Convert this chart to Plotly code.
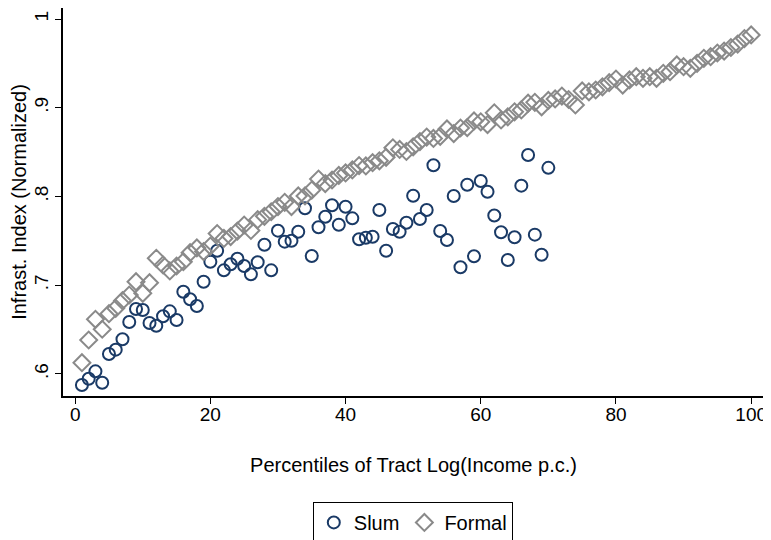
import plotly.graph_objects as go

slum_x = list(range(1, 71))
slum_y = [0.5876, 0.5947, 0.6030, 0.5902, 0.6225, 0.6274, 0.6391, 0.6586, 0.6732, 0.6721,
          0.6575, 0.6544, 0.6650, 0.6706, 0.6608, 0.6927, 0.6842, 0.6766, 0.7040, 0.7265,
          0.7389, 0.7168, 0.7236, 0.7299, 0.7217, 0.7123, 0.7259, 0.7457, 0.7168, 0.7615,
          0.7491, 0.7502, 0.7603, 0.7867, 0.7330, 0.7654, 0.7771, 0.7901, 0.7682, 0.7885,
          0.7754, 0.7518, 0.7536, 0.7547, 0.7848, 0.7389, 0.7634, 0.7603, 0.7705, 0.8009,
          0.7746, 0.7848, 0.8352, 0.7611, 0.7510, 0.8006, 0.7203, 0.8132, 0.7326, 0.8175,
          0.8054, 0.7786, 0.7597, 0.7285, 0.7540, 0.8122, 0.8468, 0.7570, 0.7344, 0.8323]

formal_x = list(range(1, 101))
formal_y = [0.6127, 0.6383, 0.6616, 0.6504, 0.6679, 0.6740, 0.6826, 0.6890, 0.7040, 0.6909,
            0.7029, 0.7304, 0.7228, 0.7161, 0.7217, 0.7265, 0.7367, 0.7420, 0.7380, 0.7442,
            0.7583, 0.7527, 0.7549, 0.7611, 0.7679, 0.7617, 0.7739, 0.7777, 0.7828, 0.7887,
            0.7935, 0.7887, 0.8006, 0.8006, 0.8073, 0.8197, 0.8145, 0.8186, 0.8237, 0.8265,
            0.8299, 0.8349, 0.8344, 0.8381, 0.8402, 0.8442, 0.8549, 0.8530, 0.8507, 0.8560,
            0.8619, 0.8670, 0.8654, 0.8678, 0.8761, 0.8709, 0.8772, 0.8776, 0.8851, 0.8842,
            0.8811, 0.8943, 0.8862, 0.8898, 0.8954, 0.8975, 0.9051, 0.9061, 0.9011, 0.9082,
            0.9099, 0.9132, 0.9093, 0.9031, 0.9189, 0.9180, 0.9200, 0.9236, 0.9283, 0.9324,
            0.9256, 0.9313, 0.9350, 0.9332, 0.9350, 0.9332, 0.9388, 0.9406, 0.9482, 0.9463,
            0.9444, 0.9501, 0.9557, 0.9575, 0.9617, 0.9639, 0.9679, 0.9718, 0.9780, 0.9820]

x_ticks = [0, 20, 40, 60, 80, 100]
y_ticks = [0.6, 0.7, 0.8, 0.9, 1.0]
y_tick_labels = [".6", ".7", ".8", ".9", "1"]

FONT = "Liberation Sans, Arial, Helvetica, sans-serif"
NAVY = "#1a3a66"
GRAY = "#8a8a8a"

fig = go.Figure()
fig.add_trace(go.Scatter(
    x=slum_x, y=slum_y, mode="markers", name="Slum",
    marker=dict(symbol="circle-open", size=12, color=NAVY, line=dict(width=2, color=NAVY)),
))
fig.add_trace(go.Scatter(
    x=formal_x, y=formal_y, mode="markers", name="Formal",
    marker=dict(symbol="diamond-open", size=13, color=GRAY, line=dict(width=2, color=GRAY)),
))

fig.update_layout(
    width=763, height=532,
    margin=dict(l=55, r=7, t=0, b=144, autoexpand=False),
    paper_bgcolor="white", plot_bgcolor="white",
    font=dict(family=FONT, size=19, color="black"),
    showlegend=True,
    legend=dict(
        orientation="h", x=0.499, xanchor="center", y=-0.273, yanchor="top",
        bordercolor="black", borderwidth=1, font=dict(size=20, family=FONT),
        itemsizing="trace", itemwidth=30, tracegroupgap=0,
    ),
    xaxis=dict(
        range=[-1.8, 101.9], tickvals=x_ticks, ticks="outside", ticklen=6,
        tickwidth=1, tickcolor="black", showgrid=False, zeroline=False,
        showline=True, linecolor="black", linewidth=1.5, mirror=True,
        automargin=False, ticklabelstandoff=-6,
        title=dict(text="Percentiles of Tract Log(Income p.c.)", standoff=34,
                   font=dict(size=20, family=FONT)),
        tickfont=dict(size=19, family=FONT),
    ),
    yaxis=dict(
        range=[0.5752, 1.0124], tickvals=y_ticks, ticktext=y_tick_labels,
        tickangle=-90, ticks="outside", ticklen=6, tickwidth=1, tickcolor="black",
        showgrid=False, zeroline=False, automargin=False,
        showline=True, linecolor="black", linewidth=1.5, mirror=True,
        title=dict(text="Infrast. Index (Normalized)", standoff=12,
                   font=dict(size=20, family=FONT)),
        tickfont=dict(size=19, family=FONT),
    ),
)

fig.write_html("out.html")
